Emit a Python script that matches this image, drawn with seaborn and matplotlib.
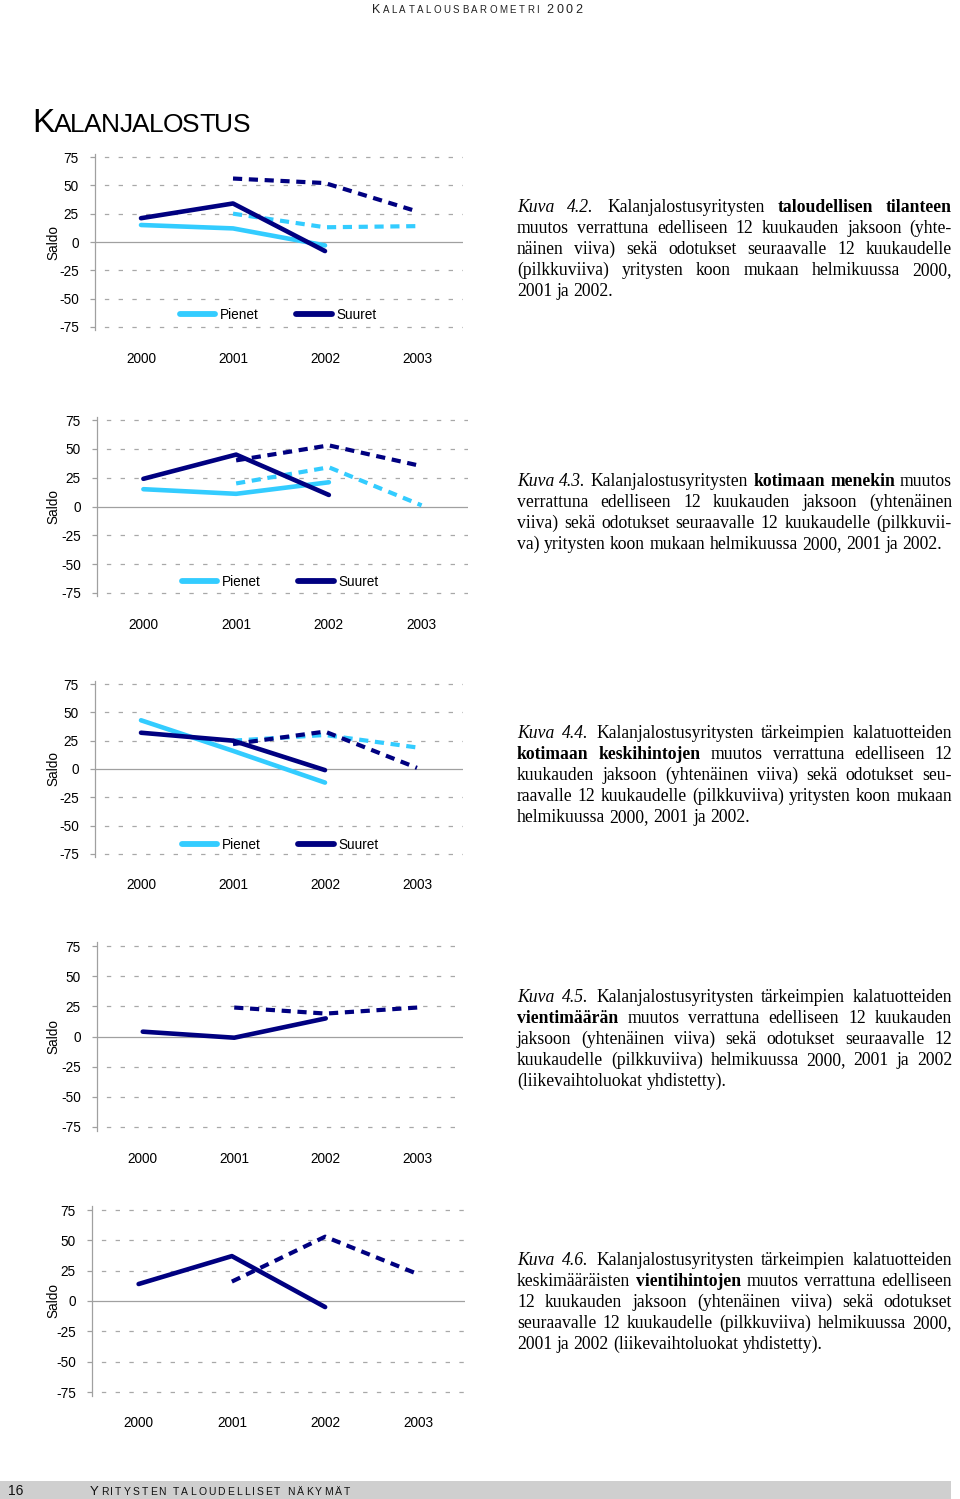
import matplotlib
matplotlib.use("Agg")
import matplotlib.pyplot as plt
import seaborn as sns
import pandas as pd
from matplotlib import font_manager as fm
from matplotlib.lines import Line2D
from matplotlib.patches import Rectangle

# ---------------- data ----------------
vuodet = [2000, 2001, 2002, 2003]
vuosi_tot = [2000, 2001, 2002]      # toteutunut muutos (yhtenäinen viiva)
vuosi_odo = [2001, 2002, 2003]      # odotukset (pilkkuviiva)
ryhmat = ["Pienet", "Suuret"]

# Kuva 4.2 taloudellinen tilanne
k42_pienet_tot = [15, 12, -3]
k42_suuret_tot = [21, 34, -8]
k42_pienet_odo = [25, 13, 14]
k42_suuret_odo = [56, 52, 27]
# Kuva 4.3 kotimaan menekki
k43_pienet_tot = [15, 11, 21]
k43_suuret_tot = [24, 45, 10]
k43_pienet_odo = [20, 34, 1]
k43_suuret_odo = [40, 53, 35]
# Kuva 4.4 kotimaan keskihinnat
k44_pienet_tot = [43, 16, -12]
k44_suuret_tot = [32, 25, -1]
k44_pienet_odo = [25, 30, 19]
k44_suuret_odo = [22, 33, 1]
# Kuva 4.5 vientimäärä (yhdistetty)
k45_tot = [4, -1, 15]
k45_odo = [24, 19, 24]
# Kuva 4.6 vientihinnat (yhdistetty)
k46_tot = [14, 37, -5]
k46_odo = [16, 53, 22]

y_ticks = [-75, -50, -25, 0, 25, 50, 75]

captions = [
    ["_Kuva 4.2._ Kalanjalostusyritysten *taloudellisen tilanteen*",
     "muutos verrattuna edelliseen 12 kuukauden jaksoon (yhte-",
     "näinen viiva) sekä odotukset seuraavalle 12 kuukaudelle",
     "(pilkkuviiva) yritysten koon mukaan helmikuussa 2000,",
     "2001 ja 2002."],
    ["_Kuva 4.3._ Kalanjalostusyritysten *kotimaan menekin* muutos",
     "verrattuna edelliseen 12 kuukauden jaksoon (yhtenäinen",
     "viiva) sekä odotukset seuraavalle 12 kuukaudelle (pilkkuvii-",
     "va) yritysten koon mukaan helmikuussa 2000, 2001 ja 2002."],
    ["_Kuva 4.4._ Kalanjalostusyritysten tärkeimpien kalatuotteiden",
     "*kotimaan keskihintojen* muutos verrattuna edelliseen 12",
     "kuukauden jaksoon (yhtenäinen viiva) sekä odotukset seu-",
     "raavalle 12 kuukaudelle (pilkkuviiva) yritysten koon mukaan",
     "helmikuussa 2000, 2001 ja 2002."],
    ["_Kuva 4.5._ Kalanjalostusyritysten tärkeimpien kalatuotteiden",
     "*vientimäärän* muutos verrattuna edelliseen 12 kuukauden",
     "jaksoon (yhtenäinen viiva) sekä odotukset seuraavalle 12",
     "kuukaudelle (pilkkuviiva) helmikuussa 2000, 2001 ja 2002",
     "(liikevaihtoluokat yhdistetty)."],
    ["_Kuva 4.6._ Kalanjalostusyritysten tärkeimpien kalatuotteiden",
     "keskimääräisten *vientihintojen* muutos verrattuna edelliseen",
     "12 kuukauden jaksoon (yhtenäinen viiva) sekä odotukset",
     "seuraavalle 12 kuukaudelle (pilkkuviiva) helmikuussa 2000,",
     "2001 ja 2002 (liikevaihtoluokat yhdistetty)."],
]

header_text = "KALATALOUSBAROMETRI 2002"
title_text = "KALANJALOSTUS"
footer_num = "16"
footer_text = "YRITYSTEN TALOUDELLISET NÄKYMÄT"
y_label = "Saldo"

# ---------------- style ----------------
sns.set_theme(style="white")
names = {f.name for f in fm.fontManager.ttflist}
NARROW = "Liberation Sans Narrow" if "Liberation Sans Narrow" in names else "Liberation Sans"
plt.rcParams["font.family"] = [NARROW, "DejaVu Sans"]
plt.rcParams["axes.unicode_minus"] = False
TICK_FS = 10.8 if NARROW == "Liberation Sans Narrow" else 9.8
SERIF = ["Liberation Serif", "DejaVu Serif"]

LB = "#33CCFF"
NAVY = "#000080"
GRID = "#a8a8a8"
AXC = "#a0a0a0"

W, H = 960, 1499
fig = plt.figure(figsize=(W / 100, H / 100), dpi=100)
renderer = fig.canvas.get_renderer()


def fx(x):
    return x / W


def fy(y):
    return 1 - y / H


_cache = {}


def text_w(s, **fp):
    key = (s, tuple(sorted(fp.items())))
    if key not in _cache:
        t = fig.text(0, 0, s, **fp)
        _cache[key] = t.get_window_extent(renderer).width
        t.remove()
    return _cache[key]


def adv(s, **fp):
    return text_w("H" + s + "H", **fp) - text_w("HH", **fp)


def small_caps(text, x0, x1, baseline, big, small, color="black", family=None):
    family = family or [NARROW, "DejaVu Sans"]
    sizes = []
    for i, c in enumerate(text):
        sizes.append(big if (i == 0 or c.isdigit()) else small)
    advs = [adv(c, fontsize=s, family=tuple(family)) for c, s in zip(text, sizes)]
    track = (x1 - x0 - sum(advs)) / (len(text) - 1)
    x = x0
    for c, s, a in zip(text, sizes, advs):
        if c != " ":
            fig.text(fx(x), fy(baseline), c, fontsize=s, family=family, color=color,
                     ha="left", va="baseline")
        x += a + track


def parse_words(line):
    words = []
    state = "n"
    cur = ""
    cur_style = None
    for ch in line + " ":
        if ch == "_":
            state = "i" if state != "i" else "n"
            continue
        if ch == "*":
            state = "b" if state != "b" else "n"
            continue
        if ch == " ":
            if cur:
                words.append((cur, cur_style))
            cur = ""
            cur_style = None
            continue
        if cur_style is None:
            cur_style = state
        cur += ch
    return words


CAP_FS = 12.7
CAP_X0, CAP_X1 = 517, 952
LINE_H = 21


def fp_for(st):
    return dict(fontsize=CAP_FS, family=tuple(SERIF),
                style="italic" if st == "i" else "normal",
                weight="bold" if st == "b" else "normal")


def draw_caption(lines, baseline0):
    for i, line in enumerate(lines):
        words = parse_words(line)
        y = baseline0 + i * LINE_H
        widths = [adv(w, **fp_for(st)) for w, st in words]
        natural = adv(" ", **fp_for("n"))
        if i == len(lines) - 1:
            gap = natural
            if CAP_X0 + sum(widths) + gap * (len(words) - 1) > CAP_X1:
                gap = (CAP_X1 - CAP_X0 - sum(widths)) / (len(words) - 1)
        else:
            gap = (CAP_X1 - CAP_X0 - sum(widths)) / (len(words) - 1)
        x = CAP_X0
        for (w, st), wd in zip(words, widths):
            p = fp_for(st)
            p["family"] = list(p["family"])
            fig.text(fx(x), fy(y), w, ha="left", va="baseline", color="black", **p)
            x += wd + gap


# ---------------- page texts ----------------
small_caps(header_text, 372, 582, 13, 9.0, 7.0, color="#222222")
small_caps(title_text, 32, 250, 132, 24, 19)

# ---------------- charts ----------------
geom = [
    dict(x0=95, x1=463, y75=157, ym75=327, ylab=357, leg_y=315, leg_x=180),
    dict(x0=97, x1=468, y75=420, ym75=593, ylab=623, leg_y=582, leg_x=182),
    dict(x0=95, x1=463, y75=684, ym75=854, ylab=883, leg_y=845, leg_x=182),
    dict(x0=97, x1=463, y75=946, ym75=1127, ylab=1157),
    dict(x0=92, x1=465, y75=1210, ym75=1392, ylab=1421),
]

series = [
    [(vuosi_odo, k42_pienet_odo, LB, True), (vuosi_odo, k42_suuret_odo, NAVY, True),
     (vuosi_tot, k42_pienet_tot, LB, False), (vuosi_tot, k42_suuret_tot, NAVY, False)],
    [(vuosi_odo, k43_pienet_odo, LB, True), (vuosi_odo, k43_suuret_odo, NAVY, True),
     (vuosi_tot, k43_pienet_tot, LB, False), (vuosi_tot, k43_suuret_tot, NAVY, False)],
    [(vuosi_odo, k44_pienet_odo, LB, True), (vuosi_odo, k44_suuret_odo, NAVY, True),
     (vuosi_tot, k44_pienet_tot, LB, False), (vuosi_tot, k44_suuret_tot, NAVY, False)],
    [(vuosi_odo, k45_odo, NAVY, True), (vuosi_tot, k45_tot, NAVY, False)],
    [(vuosi_odo, k46_odo, NAVY, True), (vuosi_tot, k46_tot, NAVY, False)],
]

cap_baselines = [212, 486, 738, 1002, 1265]

for gi, (g, ser) in enumerate(zip(geom, series)):
    u = (g["ym75"] - g["y75"]) / 150.0
    top = g["y75"] - 3 * u
    bot = g["ym75"] + 3 * u
    ax = fig.add_axes([fx(g["x0"]), fy(bot), (g["x1"] - g["x0"]) / W, (bot - top) / H])
    ax.set_facecolor("none")
    for v in y_ticks:
        if v == 0:
            ax.axhline(0, color=AXC, lw=0.9, zorder=1)
        else:
            ax.axhline(v, color=GRID, lw=0.9, ls=(3.5, (3.5, 7.5)), zorder=0)
    for xs, ys, col, dashed in ser:
        df = pd.DataFrame({"vuosi": xs, "saldo": ys})
        if dashed:
            sns.lineplot(data=df, x="vuosi", y="saldo", ax=ax, color=col, lw=3.0,
                         linestyle=(0, (2.2, 1.6)), dash_capstyle="butt", legend=False,
                         zorder=3)
        else:
            sns.lineplot(data=df, x="vuosi", y="saldo", ax=ax, color=col, lw=3.3,
                         solid_capstyle="round", legend=False, zorder=4)
    ax.set_xlim(1999.5, 2003.5)
    ax.set_ylim(-78, 78)
    ax.set_yticks(y_ticks)
    ax.set_yticklabels([str(v) for v in y_ticks])
    ax.set_xticks(vuodet)
    ax.set_xticklabels([str(v) for v in vuodet])
    ax.set_xlabel("")
    ax.set_ylabel("")
    for s in ["top", "right", "bottom"]:
        ax.spines[s].set_visible(False)
    ax.spines["left"].set_color(AXC)
    ax.spines["left"].set_linewidth(0.9)
    ax.tick_params(axis="y", left=True, length=3.6, width=0.9, color=AXC, pad=8,
                   labelsize=TICK_FS, labelcolor="black", direction="out")
    xpad = (g["ylab"] - 5.4 - bot) * 0.72
    ax.tick_params(axis="x", bottom=False, length=0, pad=xpad, labelsize=TICK_FS,
                   labelcolor="black")
    fig.text(fx(53), fy((g["y75"] + g["ym75"]) / 2), y_label, rotation=90,
             ha="center", va="center", fontsize=TICK_FS, color="black")
    if "leg_y" in g:
        handles = [Line2D([], [], color=LB, lw=4.2, solid_capstyle="round"),
                   Line2D([], [], color=NAVY, lw=4.2, solid_capstyle="round")]
        lx = (g["leg_x"] - g["x0"]) / (g["x1"] - g["x0"])
        ly = (bot - g["leg_y"]) / (bot - top)
        ax.legend(handles, ryhmat, loc="center left", bbox_to_anchor=(lx, ly), ncol=2,
                  frameon=False, handlelength=2.6, handletextpad=0.35,
                  columnspacing=2.75, borderpad=0, borderaxespad=0, fontsize=TICK_FS,
                  labelcolor="black")
    draw_caption(captions[gi], cap_baselines[gi])

# ---------------- footer ----------------
fig.patches.append(Rectangle((0, 0), fx(951), (H - 1481) / H, transform=fig.transFigure,
                             facecolor="#cfcfcf", edgecolor="none", zorder=0))
fig.text(fx(8), fy(1495), footer_num, fontsize=10, ha="left", va="baseline", color="#111111")
small_caps(footer_text, 90, 350, 1495, 9.5, 7.5, color="#111111")

fig.savefig("out.png", dpi=100)
